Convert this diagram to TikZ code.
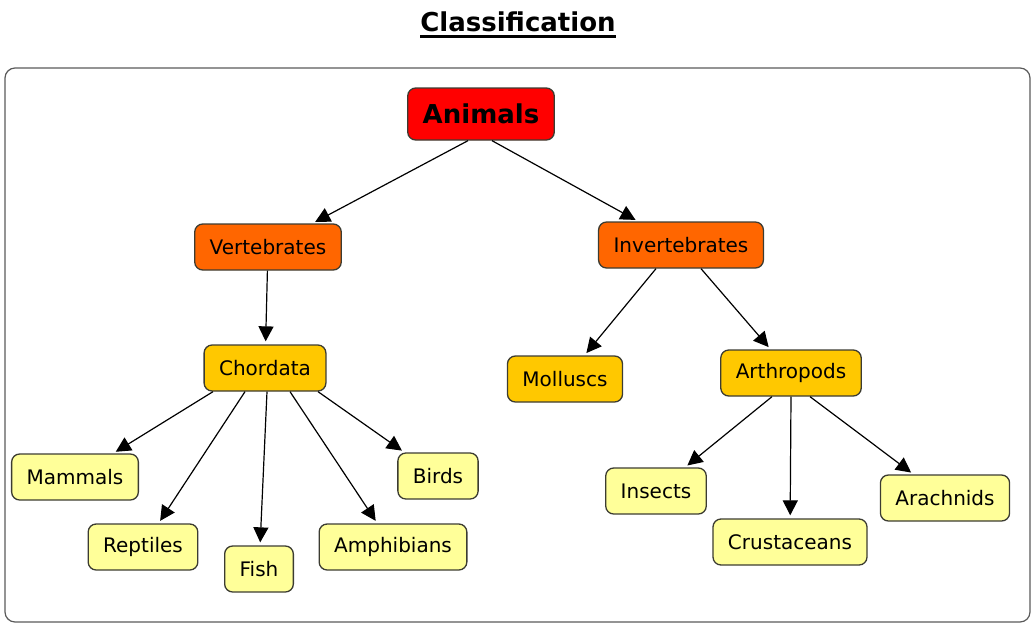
\documentclass[tikz,border=0pt]{standalone}
\usepackage{fontspec}
\setmainfont{DejaVu Sans}
\usetikzlibrary{arrows.meta}

\definecolor{rootred}{RGB}{255,0,0}
\definecolor{grouporange}{RGB}{255,102,0}
\definecolor{classgold}{RGB}{255,200,0}
\definecolor{leafyellow}{RGB}{255,255,153}
\definecolor{edgegray}{RGB}{60,60,50}
\definecolor{framegray}{RGB}{90,90,90}

\begin{document}
\begin{tikzpicture}[x=1pt,y=-1pt,
  concept/.style={draw=edgegray,line width=1.3pt,rounded corners=8pt,inner xsep=15pt,
    minimum height=46pt,font=\fontsize{20}{24}\selectfont},
  rootbox/.style={concept,fill=rootred,minimum height=52pt,
    font=\fontsize{26}{30}\selectfont\bfseries},
  groupbox/.style={concept,fill=grouporange},
  classbox/.style={concept,fill=classgold},
  leafbox/.style={concept,fill=leafyellow},
  link/.style={-{Triangle[length=15pt,width=15pt]},line width=1.2pt,shorten >=3pt}]%
\useasboundingbox (0,0) rectangle (1034,641);%
% title and frame
\node[inner sep=0pt,font=\fontsize{26}{30}\selectfont\bfseries] (title) at (518,22) {Classification};%
\draw[line width=2.5pt] ([yshift=-4pt]title.south west) -- ([yshift=-4pt]title.south east);%
\draw[framegray,line width=1.2pt,rounded corners=10pt] (5,68) rectangle (1030,622);%
% top levels
\node[rootbox] (animals) at (481,114) {Animals};%
\node[groupbox] (vertebrates) at (268,247) {Vertebrates};%
\node[groupbox] (invertebrates) at (681,245) {Invertebrates};%
\node[classbox] (chordata) at (265,368) {Chordata};%
\node[classbox] (molluscs) at (565,379) {Molluscs};%
\node[classbox] (arthropods) at (791,373) {Arthropods};%
% leaves
\node[leafbox] (mammals) at (75,477) {Mammals};%
\node[leafbox] (reptiles) at (143,547) {Reptiles};%
\node[leafbox] (fish) at (259,569) {Fish};%
\node[leafbox] (amphibians) at (393,547) {Amphibians};%
\node[leafbox] (birds) at (438,476) {Birds};%
\node[leafbox] (insects) at (656,491) {Insects};%
\node[leafbox] (crustaceans) at (790,542) {Crustaceans};%
\node[leafbox] (arachnids) at (945,498) {Arachnids};%
% links
\draw[link] ([xshift=-13pt]animals.south) -- (vertebrates);%
\draw[link] ([xshift=11pt]animals.south) -- (invertebrates);%
\draw[link] (vertebrates) -- (chordata);%
\draw[link] ([xshift=-25pt]invertebrates.south) -- (molluscs);%
\draw[link] ([xshift=20pt]invertebrates.south) -- (arthropods);%
\draw[link] ([xshift=-52pt]chordata.south) -- (mammals);%
\draw[link] ([xshift=-20pt]chordata.south) -- (reptiles);%
\draw[link] ([xshift=2pt]chordata.south) -- (fish);%
\draw[link] ([xshift=25pt]chordata.south) -- (amphibians);%
\draw[link] ([xshift=53pt]chordata.south) -- (birds);%
\draw[link] ([xshift=-19pt]arthropods.south) -- (insects);%
\draw[link] (arthropods.south) -- (crustaceans);%
\draw[link] ([xshift=19pt]arthropods.south) -- (arachnids);%
\end{tikzpicture}
\end{document}
